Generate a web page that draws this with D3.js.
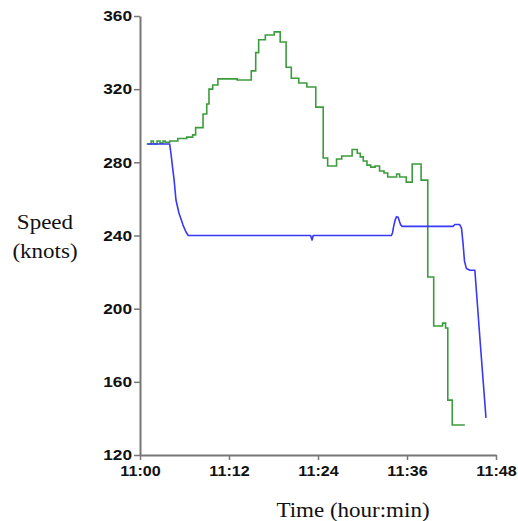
<!DOCTYPE html>
<html>
<head>
<meta charset="utf-8">
<script src="https://cdn.jsdelivr.net/npm/d3@7"></script>
<style>
  body { margin: 0; background: #fff; }
  svg { display: block; }
</style>
</head>
<body>
<svg id="chart"></svg>
<script>
// minutes after 11:00 and speed in knots
const greenMin = [0.9, 1.5, 1.8, 2.3, 2.7, 3.1, 3.4, 4.0, 5.1, 6.3, 7.1, 7.5, 8.5, 9.0, 9.3, 9.8, 10.5, 13.1, 15.0, 15.6, 16.0, 16.9, 18.1, 18.9, 19.7, 20.4, 21.4, 22.5, 23.7, 24.7, 25.3, 26.5, 27.2, 28.6, 29.3, 29.7, 30.1, 30.6, 31.1, 31.7, 32.3, 32.9, 33.4, 34.6, 35.0, 35.9, 36.7, 37.9, 38.8, 39.6, 40.8, 41.2, 41.5, 42.1, 43.8];
const greenKts = [290, 291.7, 290, 291.7, 290.5, 291.7, 291, 291.7, 293, 293.8, 295, 299, 306.4, 311.9, 320, 322.3, 325.6, 325, 330, 340, 347, 349.6, 351.3, 345.8, 332, 326, 323.4, 321.2, 310.2, 282.4, 278, 281.8, 283.5, 287, 285, 283, 280.7, 278.5, 277.4, 278, 275.3, 274.2, 272, 273.6, 272, 269.2, 279.1, 270.3, 217.3, 190.5, 192.1, 189.4, 150, 136.4, 136.4];

const blueMin = [1.0, 4.0, 4.2, 4.4, 4.6, 4.85, 5.25, 5.8, 6.2, 6.5, 23.0, 23.2, 23.35, 33.9, 34.05, 34.2, 34.4, 34.6, 34.8, 35.0, 35.15, 35.35, 35.6, 42.2, 42.45, 43.1, 43.35, 43.55, 43.75, 44.0, 44.5, 45.15, 45.9, 46.65];
const blueKts = [290, 290, 284, 277, 270.3, 259.4, 252.3, 245.7, 241.9, 240, 240, 237.5, 240, 240, 241.5, 245, 248.5, 250.3, 250, 247.5, 245.8, 245, 245, 245, 246, 246, 244, 236, 226, 222, 221, 221, 180, 140.3];

const yTicks = [120, 160, 200, 240, 280, 320, 360];
const xTicks = [0, 12, 24, 36, 48];

const width = 518, height = 521;
const svg = d3.select("#chart").attr("width", width).attr("height", height);

const x = d3.scaleLinear().domain([0, 48]).range([140, 496]);
const y = d3.scaleLinear().domain([120, 360]).range([455, 16]);

const stretch = 1.15;
function widen(sel) {
  sel.each(function() {
    const w = this.getComputedTextLength();
    d3.select(this).attr("textLength", w * stretch).attr("lengthAdjust", "spacingAndGlyphs");
  });
}

// axes
const yAxis = svg.append("g")
  .attr("transform", "translate(140,0)")
  .call(d3.axisLeft(y).tickValues(yTicks).tickSize(6).tickSizeOuter(0).tickPadding(2));
yAxis.selectAll("text")
  .style("font", "bold 15px 'Liberation Sans', Arial, sans-serif")
  .attr("fill", "#111")
  .call(widen);

const xAxis = svg.append("g")
  .attr("transform", "translate(0,455)")
  .call(d3.axisBottom(x).tickValues(xTicks).tickSize(5).tickSizeOuter(0).tickPadding(6)
    .tickFormat(d => "11:" + String(d).padStart(2, "0")));
xAxis.selectAll("text")
  .style("font", "bold 14px 'Liberation Sans', Arial, sans-serif")
  .attr("fill", "#111")
  .call(widen);

svg.selectAll(".domain").attr("stroke", "#777").attr("stroke-width", 2);
svg.selectAll(".tick line").attr("stroke", "#777").attr("stroke-width", 1.5);

// lines
const green = greenMin.map((m, i) => [m, greenKts[i]]);
const blue = blueMin.map((m, i) => [m, blueKts[i]]);

svg.append("path")
  .datum(green)
  .attr("fill", "none")
  .attr("stroke", "#3c9c3c")
  .attr("stroke-width", 1.6)
  .attr("d", d3.line().x(d => x(d[0])).y(d => y(d[1])).curve(d3.curveStepAfter));

svg.append("path")
  .datum(blue)
  .attr("fill", "none")
  .attr("stroke", "#3838f5")
  .attr("stroke-width", 1.6)
  .attr("stroke-linejoin", "round")
  .attr("d", d3.line().x(d => x(d[0])).y(d => y(d[1])));

// axis titles
const titleFont = "20px 'Liberation Serif', 'Times New Roman', serif";
const yTitle = svg.append("g").attr("fill", "#111").style("font", titleFont).attr("text-anchor", "middle");
yTitle.append("text").attr("x", 45).attr("y", 229).text("Speed");
yTitle.append("text").attr("x", 45).attr("y", 258).text("(knots)");
yTitle.selectAll("text").call(widen);

svg.append("text")
  .attr("x", 353).attr("y", 517)
  .attr("text-anchor", "middle")
  .attr("fill", "#111")
  .style("font", titleFont)
  .text("Time (hour:min)")
  .call(widen);
</script>
</body>
</html>
